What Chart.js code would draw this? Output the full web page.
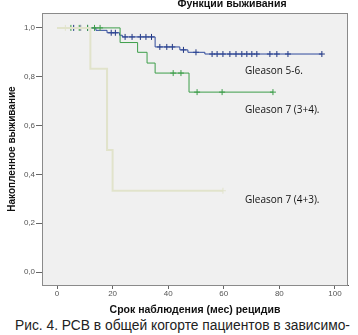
<!DOCTYPE html>
<html>
<head>
<meta charset="utf-8">
<script src="https://cdn.jsdelivr.net/npm/chart.js@4"></script>
<style>
  body { margin: 0; background: #fff; }
  #wrap { position: relative; width: 358px; height: 335px; }
  #c { position: absolute; left: 0; top: 0; }
  #caption { position: absolute; left: 15px; top: 318px; font: 13.8px "Liberation Sans", Arial, sans-serif; color: #222; white-space: nowrap; }
</style>
</head>
<body>
<div id="wrap">
  <canvas id="c" width="358" height="318"></canvas>
  <div id="caption">Рис. 4. РСВ в общей когорте пациентов в зависимо-</div>
</div>
<script>
// survival curves
const groupNames = ["Gleason 5-6.", "Gleason 7 (3+4).", "Gleason 7 (4+3)."];

// Gleason 5-6
const t56 = [0, 14, 18, 22.5, 23.5, 35.3, 44.2, 47.1, 53.2, 95.3];
const s56 = [1, 0.99, 0.98, 0.97, 0.963, 0.922, 0.91, 0.90, 0.893, 0.893];
const c56t = [6, 8.5, 11, 19.5, 21, 24.5, 27, 30, 32, 34, 37, 39.5, 41.5, 45.5, 50, 55.8, 57.6, 59.7, 62.2, 64.4, 66.5, 68.3, 70.1, 71.9, 76.6, 79.1, 83.1, 95.3];
const c56s = [1, 1, 1, 0.98, 0.98, 0.963, 0.963, 0.963, 0.963, 0.963, 0.922, 0.922, 0.922, 0.91, 0.90, 0.893, 0.893, 0.893, 0.893, 0.893, 0.893, 0.893, 0.893, 0.893, 0.893, 0.893, 0.893, 0.893];

// Gleason 7 (3+4)
const t34 = [0, 22.7, 29, 32.4, 35.3, 47.5, 77.7];
const s34 = [1, 0.94, 0.90, 0.856, 0.815, 0.737, 0.737];
const c34t = [5, 8, 11, 13.5, 15.5, 41.8, 44.6, 50.4, 59.4, 77.7];
const c34s = [1, 1, 1, 1, 1, 0.815, 0.815, 0.737, 0.737, 0.737];

// Gleason 7 (4+3)
const t43 = [0, 12, 18, 20, 59.7];
const s43 = [1, 0.833, 0.5, 0.333, 0.333];
const c43t = [3, 8.6, 59.7];
const c43s = [1, 1, 0.333];

const xTicks = [0, 20, 40, 60, 80, 100];
const yTicks = [0, 0.2, 0.4, 0.6, 0.8, 1.0];

const colors = ["#2f4a9c", "#3d9e4a", "#e1e3cb"];

function pts(t, s) {
  return t.map((x, i) => ({ x: x, y: s[i] }));
}

function curve(t, s, col, w) {
  return {
    type: "line",
    data: pts(t, s),
    borderColor: col,
    borderWidth: w,
    stepped: true,
    pointRadius: 0,
    fill: false
  };
}

function censored(t, s, col) {
  return {
    type: "scatter",
    data: pts(t, s),
    borderColor: col,
    backgroundColor: col,
    pointStyle: "cross",
    pointRadius: 3,
    pointBorderWidth: 1
  };
}

const frame = {
  id: "frame",
  beforeDraw(chart) {
    const { ctx, chartArea: a } = chart;
    ctx.save();
    ctx.fillStyle = "#f0f0f0";
    ctx.fillRect(a.left, a.top, a.right - a.left, a.bottom - a.top);
    ctx.restore();
  },
  afterDraw(chart) {
    const { ctx, chartArea: a } = chart;
    ctx.save();
    ctx.strokeStyle = "#8a8a8a";
    ctx.lineWidth = 1;
    ctx.strokeRect(a.left + 0.5, a.top + 0.5, a.right - a.left - 1, a.bottom - a.top);
    ctx.fillStyle = "#111";
    ctx.font = "bold 10.5px 'Liberation Sans', Arial, sans-serif";
    ctx.textAlign = "center";
    ctx.textBaseline = "middle";
    ctx.fillText("Функции выживания", 232, 4);
    ctx.font = "10px 'Open Sans', sans-serif";
    ctx.textAlign = "left";
    ctx.fillText(groupNames[0], 245, 71);
    ctx.fillText(groupNames[1], 245, 110);
    ctx.fillText(groupNames[2], 245, 200);
    ctx.restore();
  }
};

new Chart(document.getElementById("c"), {
  data: {
    datasets: [
      curve(t43, s43, colors[2], 2),
      censored(c43t, c43s, colors[2]),
      curve(t34, s34, colors[1], 1),
      censored(c34t, c34s, colors[1]),
      curve(t56, s56, colors[0], 1),
      censored(c56t, c56s, "#1f3580")
    ]
  },
  options: {
    responsive: false,
    animation: false,
    layout: { padding: { top: 13, right: 10, left: 0, bottom: 0 } },
    plugins: { legend: { display: false }, tooltip: { enabled: false } },
    scales: {
      x: {
        type: "linear",
        min: -5.4,
        max: 104.7,
        afterBuildTicks: (s) => { s.ticks = xTicks.map(v => ({ value: v })); },
        afterFit: (s) => { s.height = 33; },
        grid: { drawOnChartArea: false, tickLength: 4, color: "#666" },
        border: { color: "#555" },
        ticks: { padding: 0, color: "#555", font: { size: 8, family: "'Liberation Sans', Arial" }, maxRotation: 0 },
        title: {
          display: true,
          text: "Срок наблюдения (мес) рецидив",
          color: "#111",
          font: { size: 10.5, weight: "bold", family: "'Liberation Sans', Arial" },
          padding: { top: 0, bottom: 2 }
        }
      },
      y: {
        type: "linear",
        min: -0.053,
        max: 1.061,
        afterBuildTicks: (s) => { s.ticks = yTicks.map(v => ({ value: v })); },
        afterFit: (s) => { s.width = 42; },
        grid: { drawOnChartArea: false, tickLength: 6, color: "#666" },
        border: { color: "#555" },
        ticks: {
          padding: 1,
          color: "#555",
          font: { size: 8, family: "'Liberation Sans', Arial" },
          callback: (v) => v.toFixed(1).replace(".", ",")
        },
        title: {
          display: true,
          text: "Накопленное выживание",
          color: "#111",
          font: { size: 10, weight: "bold", family: "'Liberation Sans', Arial" },
          padding: { top: 6, bottom: 0 }
        }
      }
    }
  },
  plugins: [frame]
});
</script>
</body>
</html>
